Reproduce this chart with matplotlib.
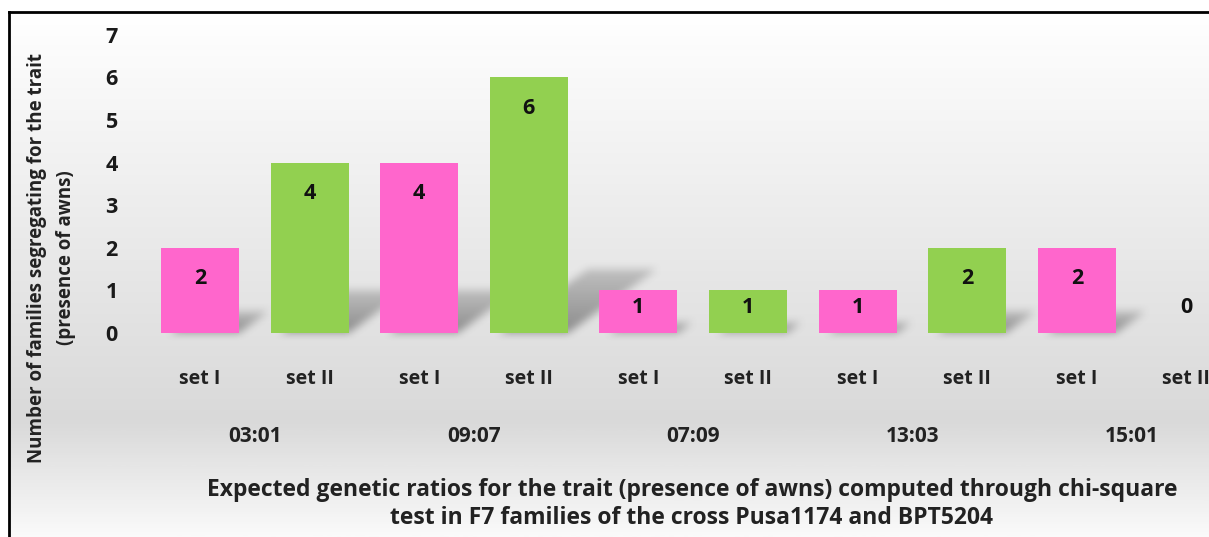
import matplotlib.pyplot as plt
import numpy as np
from matplotlib.colors import LinearSegmentedColormap
from matplotlib.lines import Line2D

sets = ["set I", "set II"] * 5
counts = [2, 4, 4, 6, 1, 1, 1, 2, 2, 0]
ratios = ["03:01", "09:07", "07:09", "13:03", "15:01"]
PINK = "#ff66cc"
GREEN = "#92d050"
bar_colors = [PINK, GREEN] * 5

ylabel = "Number of families segregating for the trait\n(presence of awns)"
xlabel = ("Expected genetic ratios for the trait (presence of awns) computed through chi-square\n"
          "test in F7 families of the cross Pusa1174 and BPT5204")

plt.rcParams["font.family"] = ["Open Sans", "DejaVu Sans"]

W, H = 1209, 537
fig = plt.figure(figsize=(W / 100, H / 100), dpi=100)
fig.patch.set_facecolor("white")

# background gradient inside the frame
bg = fig.add_axes([9 / W, 0, 1 - 9 / W, 1 - 12 / H], zorder=0)
cmap = LinearSegmentedColormap.from_list(
    "bg", [(0, "#ffffff"), (0.78, "#d9d9d9"), (1.0, "#fafafa")])
grad = np.linspace(0, 1, 400).reshape(-1, 1)
bg.imshow(grad, aspect="auto", cmap=cmap, extent=[0, 1, 1, 0])
bg.set_axis_off()

# frame lines
fig.add_artist(Line2D([9 / W, 1], [1 - 12 / H, 1 - 12 / H], color="black", lw=2))
fig.add_artist(Line2D([9 / W, 9 / W], [0, 1 - 12 / H], color="black", lw=2))

# main axes: value 0 at y=333px, 42.6 px per unit; bar i at x=200+109.6*i
px_unit = 42.6
step = 109.6
y0_px = 333
top_px = 20
left_px = 145
ax = fig.add_axes([left_px / W, (H - y0_px) / H, 1 - left_px / W, (y0_px - top_px) / H],
                  zorder=2)
ax.patch.set_alpha(0)
x = np.arange(len(counts))
xlim = ((left_px - 200) / step, (W - 200) / step)
ylim = (0, (y0_px - top_px) / px_unit)

width = 0.71


def blur(a, n):
    k = np.ones(n) / n
    a = np.apply_along_axis(lambda r: np.convolve(r, k, mode="same"), 1, a)
    a = np.apply_along_axis(lambda c: np.convolve(c, k, mode="same"), 0, a)
    return a


# soft shadows cast up-right behind each bar
sx = 0.135
sy = 0.25
for xi, h in zip(x, counts):
    if h == 0:
        continue
    xl, xr = xi - width / 2, xi + width / 2
    ex0, ex1 = xl - 0.1, xr + h * sx + 0.3
    ey0, ey1 = -0.3, h * sy + 0.4
    nx = int((ex1 - ex0) * step)
    ny = int((ey1 - ey0) * px_unit)
    gx, gy = np.meshgrid(np.linspace(ex0, ex1, nx), np.linspace(ey1, ey0, ny))
    t = gy / (h * sy)
    shift = t * h * sx
    inside = (t >= 0) & (t <= 1) & (gx >= xl + shift + 0.08) & (gx <= xr + shift)
    mask = inside * (1 - 0.55 * np.clip(t, 0, 1))
    mask = blur(blur(mask.astype(float), 11), 7)
    rgba = np.zeros((ny, nx, 4))
    rgba[..., :3] = 0.33
    rgba[..., 3] = 0.6 * mask
    ax.imshow(rgba, extent=[ex0, ex1, ey0, ey1], aspect="auto", zorder=1,
              clip_on=False, interpolation="bilinear")

ax.bar(x, counts, width=width, color=bar_colors, zorder=3)
ax.set_xlim(*xlim)
ax.set_ylim(*ylim)
ax.set_aspect("auto")

for xi, h in zip(x, counts):
    ypos = max(h - 0.72, 0.6)
    ax.text(xi, ypos, str(h), ha="center", va="center", fontsize=15.5,
            fontweight="bold", color="#111111", zorder=4)

ax.set_yticks(range(8))
ax.set_yticklabels([str(i) for i in range(8)], fontsize=15.5, fontweight="bold",
                   color="#1a1a1a")
ax.tick_params(axis="y", length=0, pad=24)
for lbl in ax.get_yticklabels():
    lbl.set_horizontalalignment("center")
ax.set_xticks(x)
ax.set_xticklabels(sets, fontsize=14, fontweight="bold", color="#222222")
ax.tick_params(axis="x", length=0, pad=26)
for s in ax.spines.values():
    s.set_visible(False)

for gi, r in enumerate(ratios):
    ax.text(2 * gi + 0.5, -103 / px_unit, r, ha="center", va="center",
            fontsize=15, fontweight="bold", color="#222222", clip_on=False)

fig.text(52 / W, 1 - 258 / H, ylabel, rotation=90, ha="center", va="center",
         fontsize=13.5, fontweight="bold", color="#222222", linespacing=1.6)
fig.text(692 / W, 1 - 504 / H, xlabel, ha="center", va="center",
         fontsize=16.5, fontweight="bold", color="#222222", linespacing=1.25)

fig.savefig("out.png", dpi=100)
